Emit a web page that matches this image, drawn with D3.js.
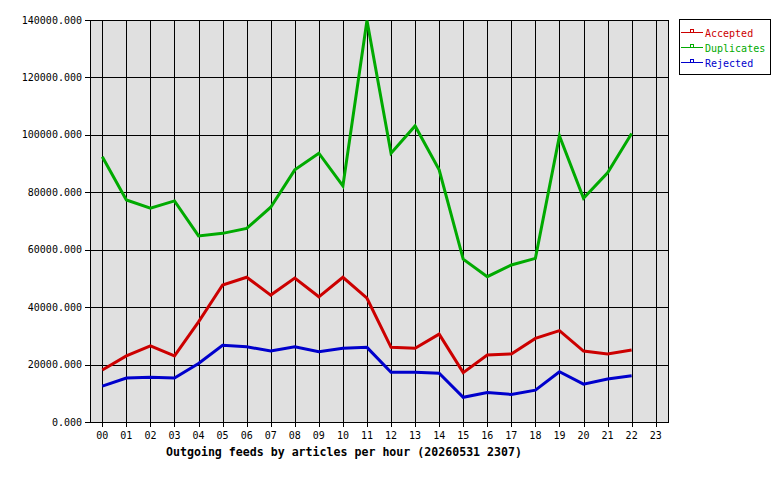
<!DOCTYPE html>
<html><head><meta charset="utf-8">
<script src="https://cdn.jsdelivr.net/npm/d3@7"></script>
<style>
body{margin:0;background:#fff;}
svg{display:block;}
text{font-family:"DejaVu Sans Mono",monospace;}
</style></head>
<body>
<svg id="c" width="780" height="480"></svg>
<script>
const hours = ["00","01","02","03","04","05","06","07","08","09","10","11","12","13","14","15","16","17","18","19","20","21","22","23"];
const accepted   = [18100,23000,26500,23000,34900,47700,50400,44200,50100,43600,50400,43100,26000,25700,30600,17200,23300,23700,29100,31800,24700,23700,25100];
const duplicates = [92400,77300,74500,77000,64800,65700,67400,74800,87800,93600,82200,139800,93600,103100,87800,56700,50600,54700,57000,99600,77900,86800,100500];
const rejected   = [12500,15300,15600,15300,20400,26700,26200,24700,26200,24500,25700,26000,17300,17300,17000,8600,10300,9600,11100,17500,13200,15000,16100];
const yTicks = [0,20000,40000,60000,80000,100000,120000,140000];
const seriesNames = ["Accepted","Duplicates","Rejected"];
const seriesColors = ["#cc0000","#00aa00","#0000cc"];
const title = "Outgoing feeds by articles per hour (20260531 2307)";

const svg = d3.select("#c");
const L=90, R=668, T=20, B=422;
const x = d3.scaleLinear().domain([0,23]).range([102.3,655.7]);
const y = d3.scaleLinear().domain([0,140000]).range([B,T]);

svg.append("rect").attr("x",L).attr("y",T).attr("width",R-L).attr("height",B-T).attr("fill","#e0e0e0");

const g = svg.append("g").attr("shape-rendering","crispEdges");
g.selectAll("line.h").data(yTicks).enter().append("line")
  .attr("x1",L-5).attr("x2",R).attr("y1",d=>Math.round(y(d))+0.5).attr("y2",d=>Math.round(y(d))+0.5)
  .attr("stroke","#000").attr("stroke-width",1);
g.selectAll("line.v").data(hours).enter().append("line")
  .attr("x1",(d,i)=>Math.round(x(i))+0.5).attr("x2",(d,i)=>Math.round(x(i))+0.5)
  .attr("y1",T).attr("y2",B+5).attr("stroke","#000").attr("stroke-width",1);
g.append("rect").attr("x",L+0.5).attr("y",T+0.5).attr("width",R-L).attr("height",B-T)
  .attr("fill","none").attr("stroke","#000");

svg.selectAll("text.yl").data(yTicks).enter().append("text")
  .attr("x",82).attr("y",d=>y(d)).attr("dy","0.35em").attr("text-anchor","end")
  .attr("font-size","10px").attr("fill","#000").text(d=>d3.format(".3f")(d));
svg.selectAll("text.xl").data(hours).enter().append("text")
  .attr("x",(d,i)=>x(i)).attr("y",435).attr("dy","0.35em").attr("text-anchor","middle")
  .attr("font-size","10px").attr("fill","#000").text(d=>d);
svg.append("text").attr("x",344).attr("y",452).attr("dy","0.35em").attr("text-anchor","middle")
  .attr("font-size","11.6px").attr("font-weight","bold").attr("fill","#000").text(title);

const line = d3.line().x((d,i)=>x(i)).y(d=>y(d));
[accepted,duplicates,rejected].forEach((s,k)=>{
  svg.append("path").datum(s).attr("d",line).attr("fill","none")
    .attr("stroke",seriesColors[k]).attr("stroke-width",3).attr("stroke-linejoin","miter");
});

const lg = svg.append("g");
lg.append("rect").attr("x",679.5).attr("y",19.5).attr("width",91).attr("height",55)
  .attr("fill","#fff").attr("stroke","#000").attr("shape-rendering","crispEdges");
seriesNames.forEach((n,k)=>{
  const cy = 32 + k*15;
  lg.append("line").attr("x1",681).attr("x2",703).attr("y1",cy+0.5).attr("y2",cy+0.5)
    .attr("stroke",seriesColors[k]).attr("shape-rendering","crispEdges");
  lg.append("rect").attr("x",690.5).attr("y",cy-2.5).attr("width",3).attr("height",3)
    .attr("fill","#fff").attr("stroke",seriesColors[k]).attr("shape-rendering","crispEdges");
  lg.append("text").attr("x",705).attr("y",cy+1).attr("dy","0.35em").attr("font-size","10px")
    .attr("fill",seriesColors[k]).text(n);
});
</script>
</body></html>
